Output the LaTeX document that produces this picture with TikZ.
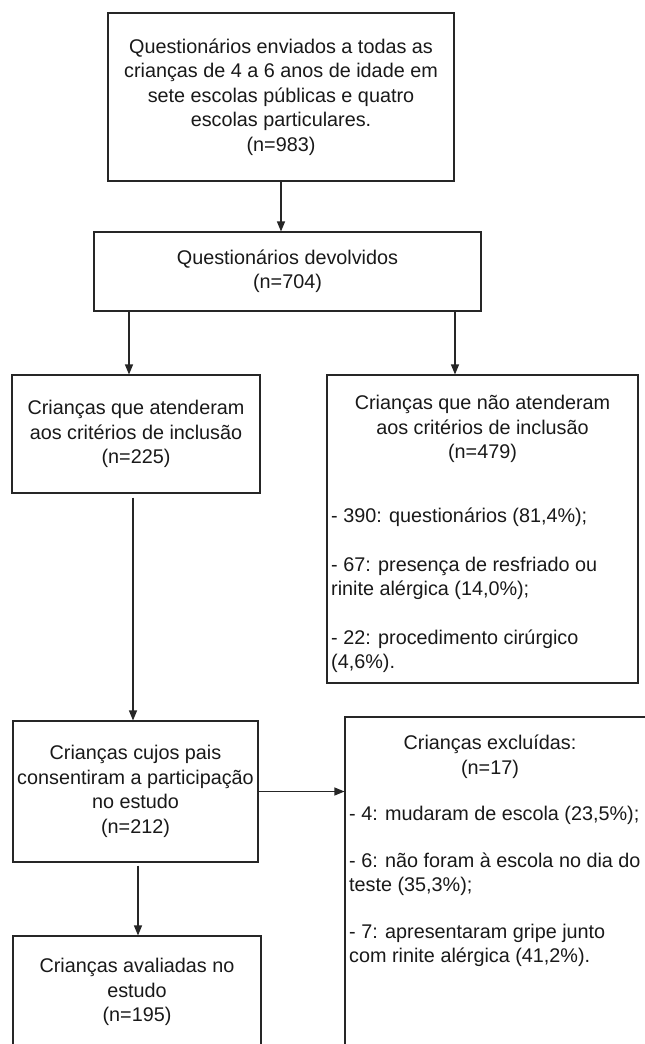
\documentclass[tikz,border=0pt]{standalone}
\usepackage{fontspec}
\setmainfont{Liberation Sans}
\usetikzlibrary{arrows.meta}
\newcommand\diagfont{\fontsize{19.8}{24.5}\selectfont}
\begin{document}
\begin{tikzpicture}[x=1pt,y=-1pt,
  box/.style={draw=black!85, line width=1.1pt, inner sep=0pt, align=center, font=\diagfont, text=black!90},
  txt/.style={inner sep=0pt, font=\diagfont, text=black!90},
  arr/.style={draw=black!85, line width=1.1pt, -{Triangle[length=10pt,width=8pt]}}]
\clip (0,0) rectangle (645,1044);
\fill[white] (0,0) rectangle (645,1044);

\node[box, minimum width=346, minimum height=168] (b1) at (281,97)
  {Questionários enviados a todas as\\crianças de 4 a 6 anos de idade em\\sete escolas públicas e quatro\\escolas particulares.\\(n=983)};
\node[box, minimum width=387, minimum height=79] (b2) at (287.5,271.5)
  {Questionários devolvidos\\(n=704)};
\node[box, minimum width=248, minimum height=118] (l1) at (136,434)
  {Crianças que atenderam\\aos critérios de inclusão\\(n=225)};
\node[box, minimum width=311, minimum height=308] (r1) at (482.5,529) {};
\node[txt, align=center] (r1t) at (482.5,429)
  {Crianças que não atenderam\\aos critérios de inclusão\\(n=479)};
\node[txt, align=left, anchor=north west] (r1i) at (331,508)
  {- 390: questionários (81,4\%);\\[24pt]- 67: presença de resfriado ou\\rinite alérgica (14,0\%);\\[24pt]- 22: procedimento cirúrgico\\(4,6\%).};
\node[box, minimum width=245, minimum height=141] (l2) at (135.5,791.5)
  {Crianças cujos pais\\consentiram a participação\\no estudo\\(n=212)};
\node[box, minimum width=355, minimum height=403] (r2) at (522.5,918.5) {};
\node[txt, align=center] (r2t) at (490,757)
  {Crianças excluídas:\\(n=17)};
\node[txt, align=left, anchor=north west] (r2i) at (349,806)
  {- 4: mudaram de escola (23,5\%);\\[22pt]- 6: não foram à escola no dia do\\teste (35,3\%);\\[22pt]- 7: apresentaram gripe junto\\com rinite alérgica (41,2\%).};
\node[box, minimum width=248, minimum height=112] (l3) at (137,992)
  {Crianças avaliadas no\\estudo\\(n=195)};

\draw[arr] (b1.south) -- (b1.south |- b2.north);
\draw[arr] ([xshift=-7pt]l1.north |- b2.south) -- ([xshift=-7pt]l1.north);
\draw[arr] ([xshift=-27.5pt]r1.north |- b2.south) -- ([xshift=-27.5pt]r1.north);
\draw[arr] ([xshift=-3pt,yshift=-4pt]l1.south) -- ([xshift=-3pt]l1.south |- l2.north);
\draw[arr] (l2.east) -- (l2.east -| r2.west);
\draw[arr] ([xshift=2.5pt,yshift=-3pt]l2.south) -- ([xshift=2.5pt]l2.south |- l3.north);
\end{tikzpicture}
\end{document}
